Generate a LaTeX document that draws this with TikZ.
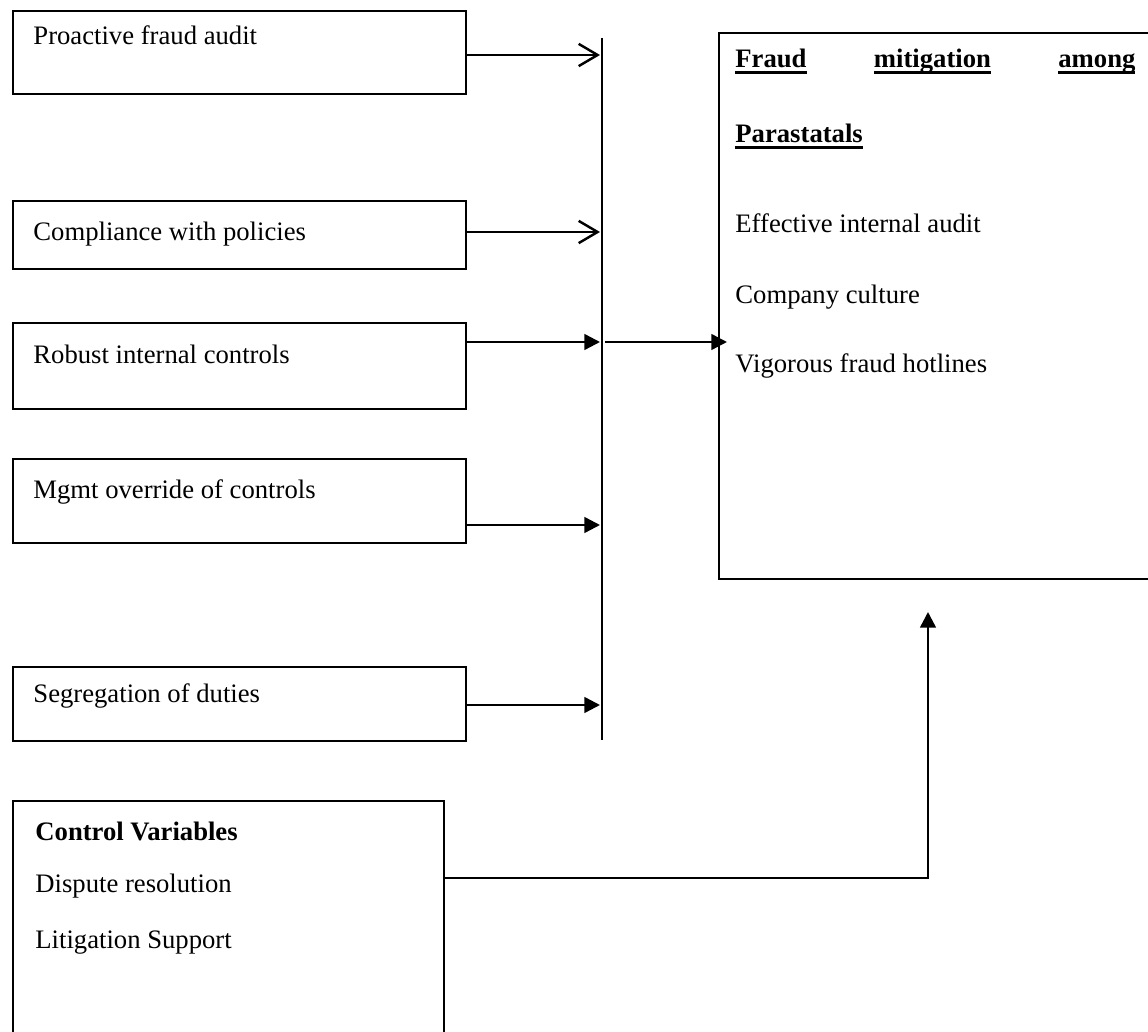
\documentclass[tikz,border=0pt]{standalone}
\usepackage{fontspec}
\setmainfont{Liberation Serif}
\usetikzlibrary{arrows.meta}
\newcommand\ulbf[1]{\setbox0\hbox{#1}\rlap{\rule[-2.6pt]{\wd0}{1.2pt}}\box0}

\begin{document}
\begin{tikzpicture}[
x = 0.45pt, y = -0.45pt,
font = \fontsize{12}{14}\selectfont,
varbox/.style={rectangle, draw, line width = 0.7pt, anchor = north west, inner sep = 0pt, minimum width = 203.85pt},
txt/.style={anchor = base west, inner sep = 0pt},
openarr/.style={-{Straight Barb[length = 8.5pt, width = 10pt, line width = 1.1pt]}, line width = 1.1pt},
fillarr/.style={-{Triangle[length = 7pt, width = 7pt]}, line width = 1.1pt}]

\clip (0,0) rectangle (1148,1032);

% independent variables
\node[varbox, minimum height = 37.35pt] (PFA) at (12,10) {};
\node[varbox, minimum height = 30.6pt]  (CWP) at (12,200) {};
\node[varbox, minimum height = 38.7pt]  (RIC) at (12,322) {};
\node[varbox, minimum height = 37.8pt]  (MOC) at (12,458) {};
\node[varbox, minimum height = 33.3pt]  (SOD) at (12,666) {};
\node[txt] (tPFA) at (33,45)  {Proactive fraud audit};
\node[txt] (tCWP) at (33,241) {Compliance with policies};
\node[txt] (tRIC) at (33,364) {Robust internal controls};
\node[txt] (tMOC) at (33,499) {Mgmt override of controls};
\node[txt] (tSOD) at (33,703) {Segregation of duties};

% collecting bar
\coordinate (bartop) at (602,38);
\coordinate (barbot) at (602,740);
\draw[line width = 0.8pt] (bartop) -- (barbot);
\coordinate (a1) at (600,55);
\coordinate (a2) at (600,232);
\coordinate (a3) at (600,342);
\coordinate (a4) at (600,525);
\coordinate (a5) at (600,705);
\draw[openarr] (PFA.east |- a1) -- (a1);
\draw[openarr] (CWP.east |- a2) -- (a2);
\draw[fillarr] (RIC.east |- a3) -- (a3);
\draw[fillarr] (MOC.east |- a4) -- (a4);
\draw[fillarr] (SOD.east |- a5) -- (a5);

% dependent variable
\node[varbox, minimum width = 198pt, minimum height = 245.7pt] (FM) at (718,32) {};
\node[txt] (tFM1) at (735,68) {\bfseries\makebox[180pt][s]{\ulbf{Fraud}\hfill\ulbf{mitigation}\hfill\ulbf{among}}};
\node[txt] (tFM2) at (735,143) {\bfseries\ulbf{Parastatals}};
\node[txt] (tEIA) at (735,233) {Effective internal audit};
\node[txt] (tCC)  at (735,304) {Company culture};
\node[txt] (tVFH) at (735,373) {Vigorous fraud hotlines};
\coordinate (bout) at (605,342);
\coordinate (fmin) at (727,342);
\draw[fillarr] (bout) -- (fmin);

% control variables
\node[varbox, minimum width = 193.95pt, minimum height = 112.5pt] (CV) at (12,800) {};
\node[txt] (tCV)  at (35,841) {\bfseries Control Variables};
\node[txt] (tDR)  at (35,892) {Dispute resolution};
\node[txt] (tLS)  at (35,948) {Litigation Support};
\coordinate (bend) at (928,878);
\coordinate (cvin) at (928,612);
\draw[fillarr] (CV.east |- bend) -- (bend) -- (cvin);

\end{tikzpicture}
\end{document}
